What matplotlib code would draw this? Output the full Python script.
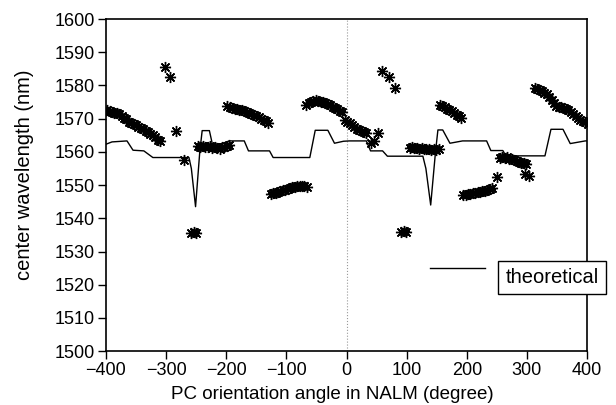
import numpy as np
import matplotlib
matplotlib.use('Agg')
import matplotlib.pyplot as plt
from matplotlib.lines import Line2D

matplotlib.rcParams['font.family'] = ['Liberation Sans', 'DejaVu Sans']
matplotlib.rcParams['font.size'] = 13

# theoretical curve (angle in degree, wavelength in nm)
theo_angle = [-400, -390, -365, -355, -337, -322, -262, -258, -251, -244, -240, -228, -223,
              -205, -195, -170, -163, -128, -122, -61, -52, -31, -20, -5, 5, 33, 40, 60, 68,
              127, 132, 140, 148, 152, 160, 172, 193, 233, 240, 260, 265, 330, 340, 360, 372,
              397, 400]
theo_wl = [1562.3, 1563.0, 1563.3, 1560.5, 1560.3, 1558.3, 1558.3, 1555.0, 1543.5, 1560.0,
           1566.4, 1566.4, 1562.3, 1562.5, 1563.3, 1563.3, 1560.3, 1560.3, 1558.3, 1558.3,
           1566.5, 1566.5, 1562.6, 1563.2, 1563.3, 1563.3, 1560.3, 1560.3, 1558.7, 1558.7,
           1555.0, 1544.0, 1560.0, 1566.6, 1566.6, 1562.6, 1563.3, 1563.3, 1560.4, 1560.4,
           1558.8, 1558.8, 1566.8, 1566.8, 1562.5, 1563.3, 1563.3]

# measured center wavelengths
meas_angle = [-402, -398, -394, -390, -386, -382, -378, -374, -370, -366, -362, -358, -354,
              -350, -346, -342, -338, -334, -330, -326, -322, -318, -314, -310,
              -301, -293, -283, -270, -258, -254, -250,
              -247, -243, -239, -235, -231, -227, -223, -219, -215, -211, -207, -203, -199, -195,
              -198, -194, -190, -186, -182, -178, -174, -170, -166, -162, -158, -154, -150, -146,
              -142, -138, -134, -130,
              -126, -122, -118, -114, -110, -106, -102, -98, -94, -90, -86, -82, -78, -74, -70, -66,
              -67, -63, -59, -55, -51, -47, -43, -39, -35, -31, -27, -23, -19, -15, -11, -7,
              -3, 1, 5, 9, 13, 17, 21, 25, 29, 33, 41, 45, 52,
              59, 70, 80, 90, 95, 99,
              105, 109, 113, 117, 121, 125, 129, 133, 137, 141, 145, 149, 153,
              155, 159, 163, 167, 171, 175, 179, 183, 187, 191,
              194, 198, 202, 206, 210, 214, 218, 222, 226, 230, 234, 238, 242,
              250, 255, 259, 263, 267, 271, 275, 279, 283, 287, 291, 295, 299, 296, 304,
              313, 317, 321, 325, 329, 333, 337, 341, 345, 349, 353, 357, 361, 365, 369, 373,
              377, 381, 385, 389, 393, 397, 401]
meas_wl = [1572.4, 1572.5, 1572.2, 1572.1, 1571.8, 1571.6, 1571.3, 1570.8, 1570.3, 1569.8,
           1569.1, 1568.8, 1568.4, 1568.0, 1567.6, 1567.1, 1566.8, 1566.4, 1566.0, 1565.5,
           1565.0, 1564.4, 1563.6, 1563.2,
           1585.6, 1582.4, 1566.4, 1557.5, 1535.7, 1535.8, 1535.6,
           1561.8, 1561.6, 1561.9, 1561.4, 1561.5, 1561.7, 1561.3, 1561.5, 1561.2, 1560.9,
           1561.4, 1561.6, 1561.8, 1562.0,
           1573.8, 1573.5, 1573.3, 1573.0, 1572.8, 1572.6, 1572.5, 1572.3, 1572.1, 1571.8,
           1571.5, 1571.1, 1570.8, 1570.4, 1570.0, 1569.6, 1569.2, 1568.8,
           1547.4, 1547.6, 1547.7, 1547.9, 1548.2, 1548.4, 1548.6, 1548.9, 1549.1, 1549.3,
           1549.5, 1549.6, 1549.7, 1549.7, 1549.6, 1549.5,
           1574.1, 1574.6, 1575.1, 1575.4, 1575.6, 1575.4, 1575.1, 1574.9, 1574.6, 1574.3,
           1574.0, 1573.6, 1573.2, 1572.9, 1572.4, 1572.0,
           1569.5, 1569.0, 1568.6, 1568.2, 1567.4, 1567.0, 1566.6, 1566.3, 1566.0, 1565.6,
           1562.6, 1563.4, 1565.6,
           1584.3, 1582.5, 1579.1, 1536.0, 1536.1, 1535.9,
           1561.2, 1561.4, 1561.1, 1561.3, 1561.0, 1561.2, 1561.0, 1560.8, 1561.0, 1560.7,
           1560.9, 1560.6, 1560.8,
           1574.1, 1573.8, 1573.4, 1573.0, 1572.7, 1572.2, 1571.7, 1571.2, 1570.7, 1570.1,
           1546.9, 1547.1, 1547.3, 1547.4, 1547.6, 1547.7, 1547.8, 1547.9, 1548.1, 1548.3,
           1548.6, 1548.9, 1549.2,
           1552.5, 1558.3, 1558.6, 1558.1, 1558.4, 1557.8, 1558.0, 1557.6, 1557.3, 1557.1,
           1556.8, 1556.5, 1556.3, 1553.2, 1552.8,
           1579.1, 1578.9, 1578.6, 1578.2, 1577.8, 1577.3, 1576.4, 1575.6, 1574.6, 1573.8,
           1573.5, 1573.4, 1573.2, 1572.9, 1572.5, 1572.1, 1571.5, 1570.8, 1570.1, 1569.7,
           1569.3, 1569.0, 1568.4]

fig = plt.figure(figsize=(6.16, 4.05), dpi=100)
ax = fig.add_axes([0.172, 0.133, 0.781, 0.820])

ax.axvline(0, color='#999999', linestyle=':', linewidth=0.8, zorder=0)
ax.plot(theo_angle, theo_wl, color='black', linewidth=1.0, zorder=2)
ax.plot(meas_angle, meas_wl, linestyle='none', marker=(8, 2, 0), markersize=8,
        markeredgewidth=1.0, color='black', zorder=3)

ax.set_xlim(-400, 400)
ax.set_ylim(1500, 1600)
ax.set_xticks(np.arange(-400, 401, 100))
ax.set_yticks(np.arange(1500, 1601, 10))
ax.tick_params(direction='out', length=6, width=1, labelsize=13, pad=2)
for s in ax.spines.values():
    s.set_linewidth(1.2)

ax.set_xlabel('PC orientation angle in NALM (degree)', fontsize=13.5)
ax.xaxis.set_label_coords(0.47, -0.105)
ax.set_ylabel('center wavelength (nm)', fontsize=14.5)
ax.yaxis.set_label_coords(-0.15, 0.53)

# legend drawn like the original: sample line outside, label in a box
ax.add_line(Line2D([0.674, 0.788], [0.25, 0.25], transform=ax.transAxes,
                   color='black', linewidth=1.0))
ax.text(0.83, 0.222, 'theoretical', transform=ax.transAxes, fontsize=14.5,
        va='center', ha='left', clip_on=False,
        bbox=dict(boxstyle='square,pad=0.35', facecolor='white', edgecolor='black', linewidth=1.0))

plt.savefig('out.png', dpi=100)
